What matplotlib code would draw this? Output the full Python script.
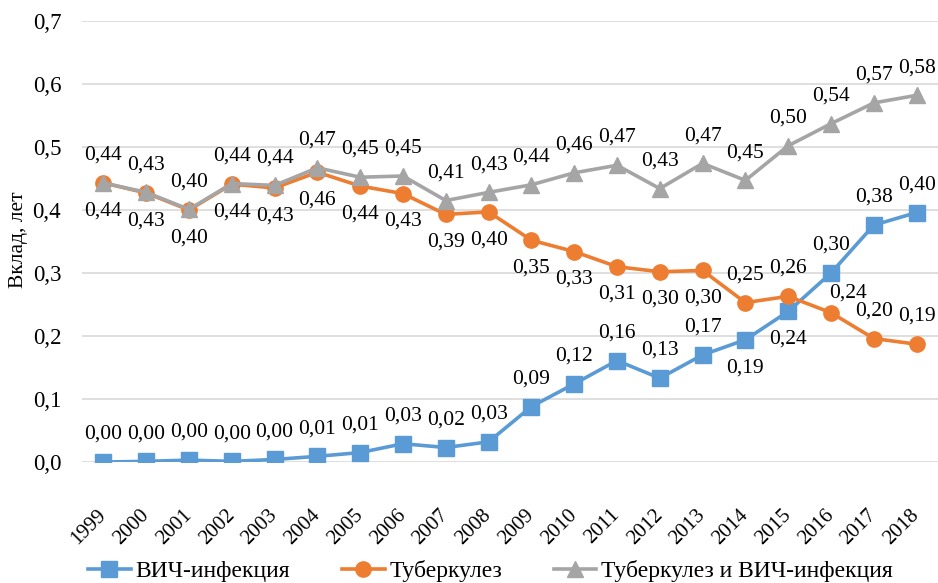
import matplotlib
matplotlib.use("Agg")
import matplotlib.pyplot as plt
import numpy as np

plt.rcParams['font.family'] = ['Liberation Serif', 'DejaVu Serif']

years = ['1999', '2000', '2001', '2002', '2003', '2004', '2005', '2006', '2007', '2008',
         '2009', '2010', '2011', '2012', '2013', '2014', '2015', '2016', '2017', '2018']
hiv = [0.000, 0.001, 0.003, 0.001, 0.004, 0.009, 0.015, 0.029, 0.023, 0.032,
       0.088, 0.124, 0.161, 0.133, 0.170, 0.194, 0.239, 0.300, 0.376, 0.396]
tb = [0.443, 0.427, 0.400, 0.441, 0.435, 0.460, 0.438, 0.426, 0.393, 0.397,
      0.352, 0.334, 0.310, 0.302, 0.304, 0.253, 0.263, 0.237, 0.196, 0.187]
both = [0.443, 0.428, 0.401, 0.442, 0.439, 0.467, 0.452, 0.454, 0.415, 0.428,
        0.440, 0.459, 0.471, 0.434, 0.474, 0.447, 0.502, 0.537, 0.570, 0.582]
names = ['ВИЧ-инфекция', 'Туберкулез', 'Туберкулез и ВИЧ-инфекция']
yticks = [0.0, 0.1, 0.2, 0.3, 0.4, 0.5, 0.6, 0.7]

# label placement (style)
hiv_pos = ['a'] * 15 + ['b', 'b', 'a', 'a', 'a']
tb_pos = ['b'] * 15 + ['a', 'a', 'ar', 'a', 'a']
both_pos = ['a'] * 20

colors = ['#5B9BD5', '#ED7D31', '#A5A5A5']
markers = ['s', 'o', '^']
msizes = [11.5, 11, 11.5]

fig = plt.figure(figsize=(9.38, 5.83), dpi=100)
ax = fig.add_axes([82 / 938, 1 - 462 / 583, 856 / 938, 441 / 583])
x = np.arange(len(years))
fs = 15.5

for vals, pos, c, m, ms, nm in zip([hiv, tb, both], [hiv_pos, tb_pos, both_pos],
                                    colors, markers, msizes, names):
    ax.plot(x, vals, color=c, lw=2.6, marker=m, markersize=ms, label=nm, zorder=3)
    for xi, v, p in zip(x, vals, pos):
        txt = f"{v:.2f}".replace('.', ',')
        if p == 'a':
            off = (0, 20)
        elif p == 'b':
            off = (0, -20)
        else:
            off = (12, 14)
        ax.annotate(txt, (xi, v), xytext=off, textcoords='offset points',
                    ha='center', va='center', fontsize=fs, color='#000000', zorder=4)

ax.set_xlim(-0.5, len(years) - 0.5)
ax.set_ylim(0, 0.7)
ax.set_yticks(yticks)
ax.set_yticklabels([f"{t:.1f}".replace('.', ',') for t in yticks], fontsize=16.5)
ax.set_xticks(x)
ax.set_xticklabels(years, fontsize=15, rotation=45, ha='right', va='center',
                   rotation_mode='anchor')
ax.tick_params(axis='both', length=0)
ax.tick_params(axis='y', pad=15)
ax.tick_params(axis='x', pad=36)
ax.grid(axis='y', color='#D9D9D9', lw=1.2)
ax.set_axisbelow(True)
for s in ax.spines.values():
    s.set_visible(False)

fig.text(19 / 938, 1 - 240 / 583, 'Вклад, лет', rotation=90, ha='center', va='center',
         fontsize=15.5)

fig.legend(loc='center', bbox_to_anchor=(0.523, 1 - 571 / 583), ncol=3, frameon=False,
           fontsize=17, handlelength=1.8, columnspacing=2.2, handletextpad=0.2)

fig.savefig('out.png', dpi=100)
